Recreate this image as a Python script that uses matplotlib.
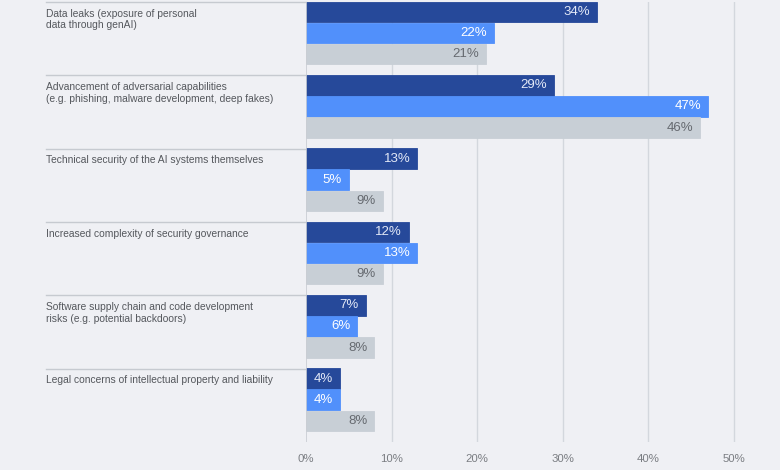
import matplotlib
matplotlib.use("Agg")
import matplotlib.pyplot as plt
import matplotlib.transforms as mtransforms
import numpy as np

categories = [
    "Data leaks (exposure of personal\ndata through genAI)",
    "Advancement of adversarial capabilities\n(e.g. phishing, malware development, deep fakes)",
    "Technical security of the AI systems themselves",
    "Increased complexity of security governance",
    "Software supply chain and code development\nrisks (e.g. potential backdoors)",
    "Legal concerns of intellectual property and liability",
]
series_a = [34, 29, 13, 12, 7, 4]
series_b = [22, 47, 5, 13, 6, 4]
series_c = [21, 46, 9, 9, 8, 8]
tick_values = [0, 10, 20, 30, 40, 50]
tick_labels = ["0%", "10%", "20%", "30%", "40%", "50%"]

bg = "#eff0f4"
colors = ["#26499a", "#5190fb", "#c8cfd6"]
text_colors = ["#e3e9f7", "#ffffff", "#666a70"]

plt.rcParams['font.family'] = ['Liberation Sans', 'DejaVu Sans']

W, H = 780, 470
fig = plt.figure(figsize=(W / 100, H / 100), dpi=100, facecolor=bg)
ax = fig.add_axes([306 / W, (H - 442) / H, (774 - 306) / W, (442 - 2) / H], facecolor=bg)

xmax = 50 * (774 - 306) / (734 - 306)
ax.set_xlim(0, xmax)
ax.set_ylim(len(categories), 0)

bar_h = 0.28
offsets = [0.136, 0.422, 0.712]
for k, vals in enumerate([series_a, series_b, series_c]):
    ys = np.arange(len(categories)) + offsets[k]
    ax.barh(ys, vals, height=bar_h, color=colors[k], zorder=3,
            edgecolor=colors[k], linewidth=0.6)
    for y, v in zip(ys, vals):
        ax.annotate(f"{v}%", xy=(v, y), xytext=(-5, 0), textcoords="offset points",
                    ha="right", va="center", fontsize=9.5, color=text_colors[k], zorder=4)

# grid
for t in tick_values[1:]:
    ax.axvline(t, color="#d3d7dd", linewidth=1.0, zorder=1)
ax.axvline(0, color="#c9cdd3", linewidth=1.2, zorder=5)

ax.set_xticks(tick_values)
ax.set_xticklabels(tick_labels, fontsize=8.2, color="#7a7d82")
ax.tick_params(axis="x", length=0, pad=9)
ax.set_yticks([])
for s in ax.spines.values():
    s.set_visible(False)

# category labels and separators
trans = mtransforms.blended_transform_factory(fig.transFigure, ax.transData)
for i, cat in enumerate(categories):
    ax.plot([46 / W, 306 / W], [i, i], transform=trans, color="#c6cad0",
            linewidth=1.0, clip_on=False)
    ax.text(46 / W, i + 0.09, cat, transform=trans, ha="left", va="top",
            fontsize=7.4, color="#55585d", linespacing=1.2)

fig.savefig("out.png", dpi=100, facecolor=bg)
